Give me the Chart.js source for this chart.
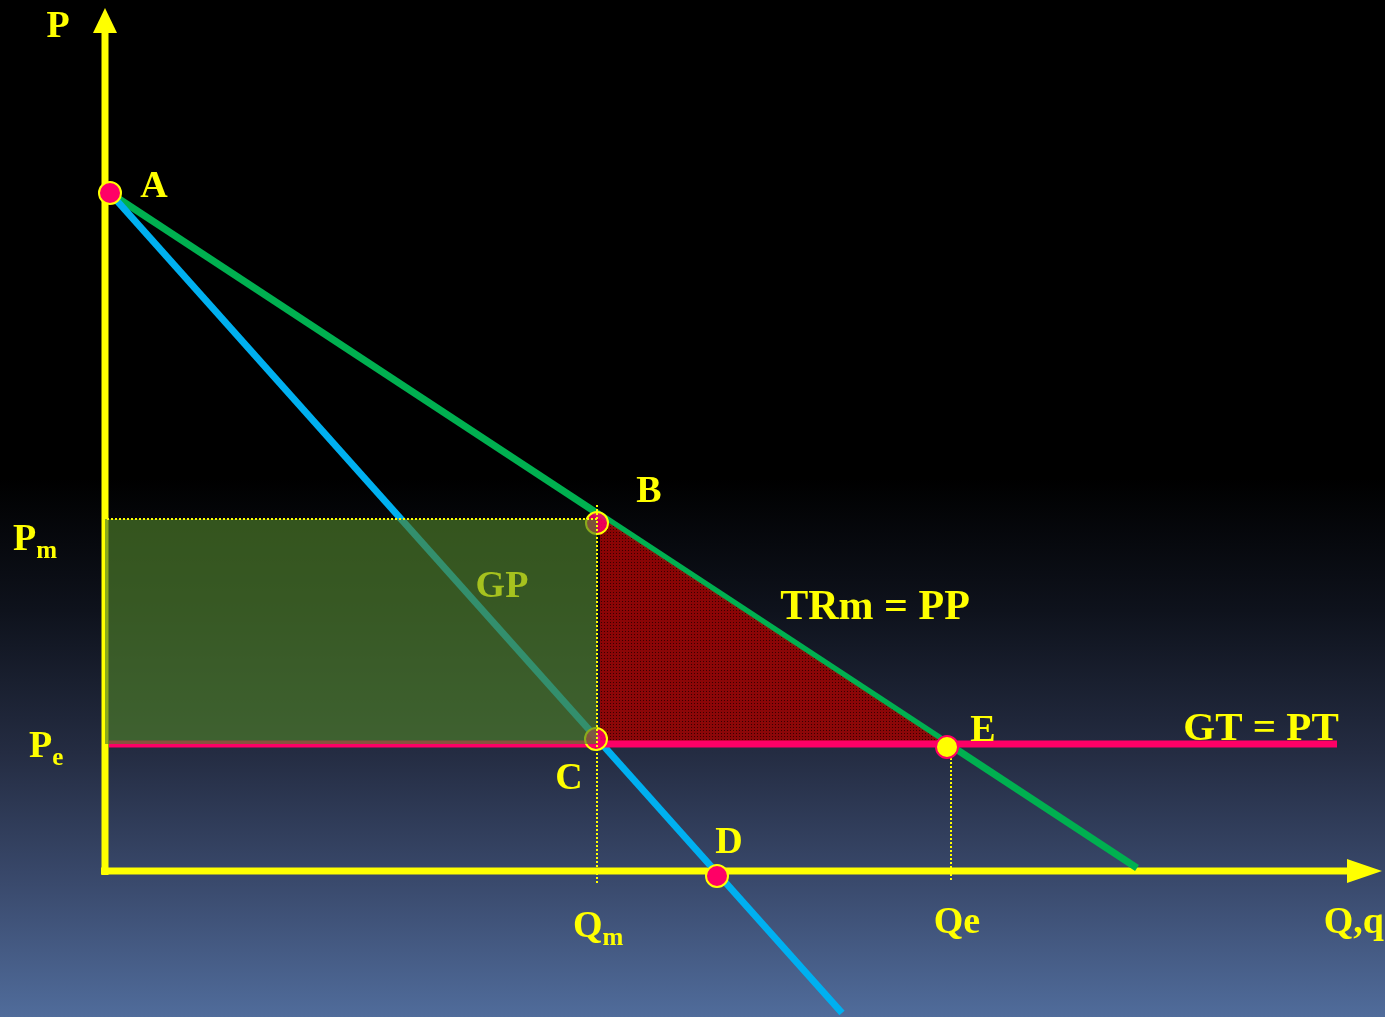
<!DOCTYPE html>
<html>
<head>
<meta charset="utf-8">
<script src="https://cdn.jsdelivr.net/npm/chart.js@4.4.0/dist/chart.umd.min.js"></script>
<style>
body { margin: 0; overflow: hidden; background: #000; }
#wrap { width: 1385px; height: 1017px; }
</style>
</head>
<body>
<div id="wrap"><canvas id="chart1"></canvas></div>
<script>
// values in chart units (Q along x, P along y)
var demandQ = [0.05, 10.32];
var demandP = [6.78, 0.03];
var mrQ = [0.05, 7.37];
var mrP = [6.78, -1.42];
var mcQ = [0.04, 12.32];
var pm = 3.52, pe = 1.27, qm = 4.92, qe = 8.46;

var pointNames = ['A', 'B', 'C', 'D', 'E'];
var pointQ = [0.05, 4.92, 4.91, 6.12, 8.42];
var pointP = [6.78, 3.48, 1.32, -0.05, 1.24];

var triangleQ = [4.95, 8.40];
var triangleP = [3.54, 1.27];

var qAxisMax = 12.77, pAxisMax = 8.63;

var labelText = ['P', 'A', 'B', 'TRm = PP', 'GP', 'C', 'E', 'GT = PT', 'D', 'Qe'];
var labelQ = [-0.47, 0.49, 5.44, 7.70, 3.97, 4.64, 8.78, 11.56, 6.24, 8.52];
var labelP = [8.34, 6.74, 3.69, 2.52, 2.74, 0.82, 1.30, 1.31, 0.18, -0.62];
var labelSize = [38, 38, 38, 42, 38, 38, 38, 41, 38, 38];

var subMain = ['P', 'P', 'Q'];
var subText = ['m', 'e', 'm'];
var subQ = [-0.92, -0.76, 4.68];
var subP = [3.21, 1.14, -0.66];

function pt(q, p) {
	return q.map(function (v, i) { return { x: v, y: p[i] }; });
}

function redPattern() {
	var c = document.createElement('canvas');
	c.width = 3; c.height = 3;
	var g = c.getContext('2d');
	g.fillStyle = 'rgba(150,4,4,0.92)';
	g.fillRect(0, 0, 3, 3);
	g.fillStyle = 'rgba(50,0,0,0.92)';
	g.fillRect(1, 1, 1, 1);
	return g.createPattern(c, 'repeat');
}

var YEL = '#ffff00';
var serif = '"Liberation Serif", "Times New Roman", serif';

var background = {
	id: 'background',
	beforeDatasetsDraw: function (chart) {
		var ctx = chart.ctx, w = chart.width, h = chart.height;
		var x = chart.scales.x, y = chart.scales.y;
		ctx.save();
		var grad = ctx.createLinearGradient(0, 0, 0, h);
		grad.addColorStop(0, '#000000');
		grad.addColorStop(0.47, '#000000');
		grad.addColorStop(0.6, '#0e121c');
		grad.addColorStop(0.74, '#242c42');
		grad.addColorStop(0.87, '#3a4a6d');
		grad.addColorStop(1, '#506c9b');
		ctx.fillStyle = grad;
		ctx.fillRect(0, 0, w, h);

		// axes with arrow heads
		var x0 = x.getPixelForValue(0), y0 = y.getPixelForValue(0);
		var yTop = y.getPixelForValue(pAxisMax), xEnd = x.getPixelForValue(qAxisMax);
		ctx.strokeStyle = YEL;
		ctx.fillStyle = YEL;
		ctx.lineWidth = 7;
		ctx.beginPath();
		ctx.moveTo(x0, y0 + 4);
		ctx.lineTo(x0, yTop + 22);
		ctx.moveTo(x0 - 4, y0);
		ctx.lineTo(xEnd - 32, y0);
		ctx.stroke();
		ctx.beginPath();
		ctx.moveTo(x0, yTop);
		ctx.lineTo(x0 - 12, yTop + 25);
		ctx.lineTo(x0 + 12, yTop + 25);
		ctx.closePath();
		ctx.fill();
		ctx.beginPath();
		ctx.moveTo(xEnd, y0);
		ctx.lineTo(xEnd - 35, y0 - 12);
		ctx.lineTo(xEnd - 35, y0 + 12);
		ctx.closePath();
		ctx.fill();
		ctx.restore();
	}
};

var texts = {
	id: 'texts',
	afterDatasetsDraw: function (chart) {
		var ctx = chart.ctx;
		var x = chart.scales.x, y = chart.scales.y;
		ctx.save();
		ctx.textBaseline = 'alphabetic';
		labelText.forEach(function (t, i) {
			ctx.font = 'bold ' + labelSize[i] + 'px ' + serif;
			ctx.fillStyle = t === 'GP' ? '#a6c21e' : YEL;
			ctx.textAlign = 'center';
			ctx.fillText(t, x.getPixelForValue(labelQ[i]), y.getPixelForValue(labelP[i]));
		});
		ctx.fillStyle = YEL;
		ctx.font = 'bold 38px ' + serif;
		ctx.textAlign = 'right';
		ctx.fillText('Q,q', x.getPixelForValue(qAxisMax + 0.02), y.getPixelForValue(-0.62));
		ctx.textAlign = 'left';
		subMain.forEach(function (t, i) {
			var px = x.getPixelForValue(subQ[i]), py = y.getPixelForValue(subP[i]);
			ctx.font = 'bold 38px ' + serif;
			var w = ctx.measureText(t).width;
			ctx.fillText(t, px, py);
			ctx.font = 'bold 25px ' + serif;
			ctx.fillText(subText[i], px + w, py + 8);
		});
		ctx.restore();
	}
};

function dotted(data) {
	return {
		data: data, showLine: true, borderColor: YEL, borderWidth: 2,
		borderDash: [2, 2], pointRadius: 0, fill: false, order: 1
	};
}

var ctx = document.getElementById('chart1').getContext('2d');
new Chart(ctx, {
	type: 'scatter',
	data: {
		datasets: [
			{
				data: pt([pointQ[0], pointQ[3]], [pointP[0], pointP[3]]),
				pointRadius: 11, pointBackgroundColor: '#ff0066',
				pointBorderColor: YEL, pointBorderWidth: 2, order: 0
			},
			{
				data: pt([pointQ[4]], [pointP[4]]),
				pointRadius: 11, pointBackgroundColor: YEL,
				pointBorderColor: '#ff0066', pointBorderWidth: 2, order: 0
			},
			dotted(pt([0.02, qm], [pm, pm])),
			dotted(pt([qm, qm], [3.66, -0.14])),
			dotted(pt([qe, qe], [1.21, -0.09])),
			{
				// GP rectangle
				data: pt([0, qm], [pm, pm]), showLine: true, borderWidth: 0,
				pointRadius: 0, fill: { value: pe },
				backgroundColor: 'rgba(77,126,41,0.66)', order: 2
			},
			{
				data: pt([pointQ[1], pointQ[2]], [pointP[1], pointP[2]]),
				pointRadius: 11, pointBackgroundColor: 'rgba(255,0,102,0.85)',
				pointBorderColor: YEL, pointBorderWidth: 2, order: 2.5
			},
			{
				data: pt(mcQ, [pe, pe]), showLine: true, borderColor: '#ff0066',
				borderWidth: 7, pointRadius: 0, fill: false, order: 3
			},
			{
				// deadweight triangle
				data: pt(triangleQ, triangleP), showLine: true, borderWidth: 0,
				pointRadius: 0, fill: { value: pe },
				backgroundColor: redPattern(), order: 4
			},
			{
				data: pt(mrQ, mrP), showLine: true, borderColor: '#00b0f0',
				borderWidth: 7, pointRadius: 0, fill: false, order: 6
			},
			{
				data: pt(demandQ, demandP), showLine: true, borderColor: '#00b050',
				borderWidth: 7, pointRadius: 0, fill: false, order: 7
			}
		]
	},
	options: {
		responsive: true,
		maintainAspectRatio: false,
		animation: false,
		layout: { padding: 0, autoPadding: false },
		plugins: { legend: { display: false }, tooltip: { enabled: false } },
		scales: {
			x: { type: 'linear', min: -1.05, max: 12.80, display: false },
			y: { type: 'linear', min: -1.46, max: 8.71, display: false }
		}
	},
	plugins: [background, texts]
});
</script>
</body>
</html>
